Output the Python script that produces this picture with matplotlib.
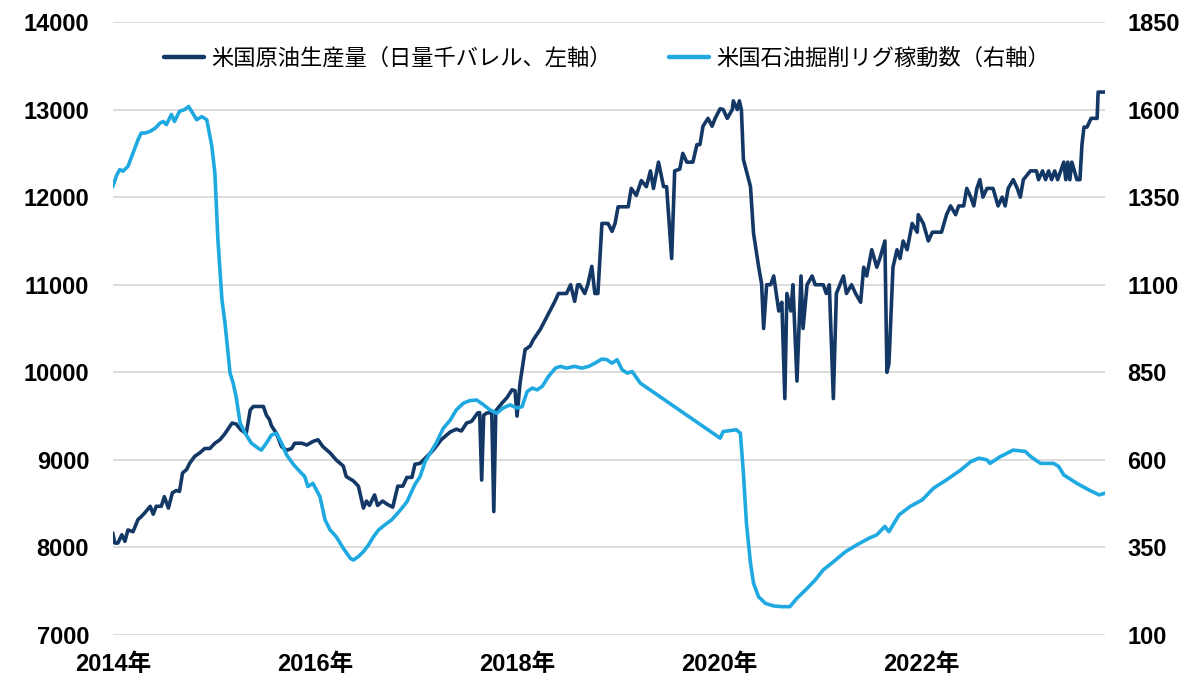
import numpy as np
import matplotlib
matplotlib.use("Agg")
import matplotlib.pyplot as plt

plt.rcParams['font.family'] = ['Liberation Sans', 'Noto Sans CJK JP', 'DejaVu Sans']

# US crude oil production (thousand b/d, weekly estimates), x = decimal year
prod_t = [2014.00, 2014.02, 2014.05, 2014.09, 2014.12, 2014.15, 2014.20, 2014.25, 2014.28, 2014.32,
          2014.37, 2014.40, 2014.43, 2014.48, 2014.51, 2014.55, 2014.59, 2014.63, 2014.66, 2014.69,
          2014.73, 2014.76, 2014.81, 2014.86, 2014.91, 2014.96, 2015.01, 2015.06, 2015.11, 2015.18,
          2015.22, 2015.27, 2015.32, 2015.36, 2015.39, 2015.49, 2015.52, 2015.55, 2015.57, 2015.62,
          2015.67, 2015.72, 2015.77, 2015.80, 2015.87, 2015.92, 2015.98, 2016.03, 2016.08, 2016.15,
          2016.21, 2016.28, 2016.31, 2016.38, 2016.43, 2016.48, 2016.51, 2016.54, 2016.59, 2016.62,
          2016.67, 2016.72, 2016.77, 2016.82, 2016.87, 2016.91, 2016.96, 2016.99, 2017.04, 2017.11,
          2017.17, 2017.25, 2017.34, 2017.40, 2017.45, 2017.50, 2017.55, 2017.61, 2017.63, 2017.65,
          2017.67, 2017.70, 2017.75, 2017.77, 2017.79, 2017.81, 2017.86, 2017.90, 2017.95, 2017.98,
          2018.00, 2018.03, 2018.08, 2018.13, 2018.16, 2018.23, 2018.28, 2018.33, 2018.37, 2018.41,
          2018.49, 2018.53, 2018.57, 2018.60, 2018.62, 2018.67, 2018.70, 2018.74, 2018.77, 2018.80,
          2018.84, 2018.90, 2018.94, 2018.97, 2019.00, 2019.10, 2019.13, 2019.18, 2019.23, 2019.28,
          2019.32, 2019.35, 2019.40, 2019.45, 2019.48, 2019.53, 2019.56, 2019.61, 2019.64, 2019.68,
          2019.74, 2019.78, 2019.81, 2019.84, 2019.89, 2019.93, 2019.96, 2020.01, 2020.04, 2020.08,
          2020.13, 2020.14, 2020.18, 2020.20, 2020.22, 2020.24, 2020.31, 2020.34, 2020.39, 2020.42,
          2020.44, 2020.47, 2020.51, 2020.54, 2020.59, 2020.62, 2020.65, 2020.67, 2020.71, 2020.73,
          2020.77, 2020.81, 2020.83, 2020.87, 2020.92, 2020.95, 2021.03, 2021.06, 2021.09, 2021.13,
          2021.16, 2021.23, 2021.26, 2021.31, 2021.35, 2021.40, 2021.43, 2021.46, 2021.51, 2021.56,
          2021.59, 2021.64, 2021.66, 2021.68, 2021.72, 2021.76, 2021.79, 2021.82, 2021.86, 2021.91,
          2021.96, 2021.97, 2022.02, 2022.07, 2022.11, 2022.20, 2022.25, 2022.29, 2022.34, 2022.37,
          2022.42, 2022.45, 2022.49, 2022.52, 2022.55, 2022.58, 2022.61, 2022.65, 2022.71, 2022.76,
          2022.80, 2022.83, 2022.86, 2022.91, 2022.95, 2022.98, 2023.01, 2023.08, 2023.14, 2023.16,
          2023.20, 2023.23, 2023.26, 2023.29, 2023.32, 2023.35, 2023.38, 2023.41, 2023.43, 2023.45,
          2023.47, 2023.49, 2023.54, 2023.57, 2023.59, 2023.61, 2023.64, 2023.68, 2023.74, 2023.75,
          2023.82]
prod_v = [8160, 8050, 8050, 8145, 8070, 8200, 8180, 8320, 8350, 8400,
          8470, 8380, 8470, 8470, 8580, 8450, 8625, 8650, 8640, 8850,
          8890, 8960, 9040, 9080, 9130, 9130, 9190, 9230, 9300, 9420,
          9410, 9340, 9300, 9570, 9610, 9610, 9510, 9460, 9390, 9300,
          9150, 9110, 9130, 9190, 9190, 9170, 9210, 9230, 9150, 9080,
          9000, 8930, 8810, 8760, 8700, 8450, 8530, 8480, 8600, 8480,
          8530, 8490, 8460, 8700, 8700, 8800, 8800, 8950, 8960, 9040,
          9110, 9230, 9320, 9350, 9330, 9420, 9440, 9535, 9540, 8770,
          9510, 9535, 9540, 8410, 9560, 9590, 9660, 9710, 9800, 9790,
          9500, 9880, 10260, 10300, 10370, 10490, 10600, 10710, 10800, 10900,
          10900, 11000, 10810, 11000, 11000, 10900, 11000, 11210, 10900, 10900,
          11700, 11700, 11610, 11700, 11890, 11890, 12100, 12020, 12190, 12120,
          12300, 12100, 12400, 12120, 12120, 11300, 12300, 12320, 12500, 12400,
          12400, 12600, 12600, 12810, 12900, 12810, 12900, 13010, 13000, 12900,
          13000, 13100, 13000, 13100, 13000, 12430, 12120, 11590, 11210, 11010,
          10500, 11000, 11000, 11100, 10700, 10800, 9700, 10900, 10700, 11000,
          9900, 11100, 10500, 11000, 11100, 11000, 11000, 10900, 11000, 9700,
          10900, 11100, 10900, 11000, 10900, 10800, 11200, 11100, 11400, 11200,
          11300, 11500, 10000, 10100, 11200, 11400, 11300, 11500, 11400, 11700,
          11600, 11800, 11700, 11500, 11600, 11600, 11800, 11900, 11800, 11900,
          11900, 12100, 12000, 11900, 12100, 12200, 12000, 12100, 12100, 11900,
          12000, 11900, 12100, 12200, 12100, 12000, 12200, 12300, 12300, 12200,
          12300, 12200, 12300, 12200, 12300, 12200, 12300, 12400, 12200, 12400,
          12200, 12400, 12200, 12200, 12600, 12800, 12800, 12900, 12900, 13200,
          13200]

# US oil rig count (Baker Hughes), gap in 2019 is bridged by a straight line
rig_t = [2014.00, 2014.04, 2014.07, 2014.10, 2014.15, 2014.20, 2014.25, 2014.28, 2014.32, 2014.37,
         2014.42, 2014.47, 2014.50, 2014.53, 2014.58, 2014.61, 2014.66, 2014.71, 2014.75, 2014.78,
         2014.83, 2014.88, 2014.93, 2014.98, 2015.01, 2015.04, 2015.08, 2015.11, 2015.16, 2015.19,
         2015.22, 2015.26, 2015.31, 2015.37, 2015.44, 2015.47, 2015.52, 2015.57, 2015.62, 2015.67,
         2015.72, 2015.79, 2015.85, 2015.90, 2015.93, 2015.98, 2016.05, 2016.10, 2016.15, 2016.21,
         2016.28, 2016.35, 2016.38, 2016.43, 2016.48, 2016.53, 2016.58, 2016.63, 2016.69, 2016.76,
         2016.84, 2016.91, 2016.99, 2017.04, 2017.09, 2017.14, 2017.20, 2017.27, 2017.34, 2017.40,
         2017.47, 2017.53, 2017.60, 2017.67, 2017.73, 2017.80, 2017.86, 2017.93, 2018.00, 2018.05,
         2018.10, 2018.15, 2018.20, 2018.25, 2018.31, 2018.38, 2018.43, 2018.49, 2018.57, 2018.64,
         2018.71, 2018.77, 2018.84, 2018.89, 2018.94, 2018.99, 2019.04, 2019.09, 2019.14, 2019.22,
         2020.01, 2020.04, 2020.17, 2020.21, 2020.24, 2020.27, 2020.31, 2020.34, 2020.39, 2020.46,
         2020.54, 2020.62, 2020.70, 2020.77, 2020.87, 2020.95, 2021.03, 2021.13, 2021.25, 2021.36,
         2021.48, 2021.56, 2021.64, 2021.68, 2021.78, 2021.89, 2022.01, 2022.12, 2022.25, 2022.39,
         2022.49, 2022.57, 2022.65, 2022.68, 2022.78, 2022.91, 2023.03, 2023.08, 2023.18, 2023.31,
         2023.36, 2023.41, 2023.54, 2023.66, 2023.76, 2023.82]
rig_v = [1381, 1414, 1429, 1424, 1438, 1476, 1514, 1533, 1533, 1538,
         1547, 1562, 1566, 1557, 1586, 1566, 1595, 1600, 1609, 1595,
         1571, 1580, 1571, 1495, 1419, 1229, 1057, 991, 848, 820,
         781, 705, 676, 648, 633, 628, 648, 671, 676, 648,
         614, 586, 567, 552, 524, 533, 495, 429, 400, 381,
         348, 319, 314, 324, 338, 357, 381, 400, 414, 429,
         455, 480, 530, 552, 595, 619, 648, 690, 714, 743,
         762, 769, 771, 757, 743, 733, 748, 757, 748, 752,
         795, 805, 800, 810, 838, 862, 867, 862, 867, 862,
         867, 876, 888, 886, 876, 886, 857, 848, 852, 819,
         662, 681, 686, 676, 562, 419, 305, 248, 209, 190,
         183, 181, 181, 205, 233, 257, 286, 309, 338, 357,
         376, 386, 410, 395, 443, 467, 486, 519, 543, 571,
         595, 605, 600, 590, 609, 628, 624, 610, 590, 590,
         581, 557, 533, 514, 500, 505]

year_ticks = [2014, 2016, 2018, 2020, 2022]
left_ticks = [7000, 8000, 9000, 10000, 11000, 12000, 13000, 14000]
right_ticks = [100, 350, 600, 850, 1100, 1350, 1600, 1850]

dark = '#143866'
light = '#1fa9e1'

fig = plt.figure(figsize=(12, 6.84), dpi=100)
ax = fig.add_axes([0.094, 0.0716, 0.827, 0.8962])
ax2 = ax.twinx()

l1, = ax.plot(prod_t, prod_v, color=dark, lw=2.6, solid_joinstyle='round',
              label='米国原油生産量（日量千バレル、左軸）')
l2, = ax2.plot(rig_t, rig_v, color=light, lw=2.6, solid_joinstyle='round',
               label='米国石油掘削リグ稼動数（右軸）')

ax.set_xlim(2014, 2023.82)
ax.set_ylim(7000, 14000)
ax2.set_ylim(100, 1850)
ax.set_yticks(left_ticks)
ax2.set_yticks(right_ticks)
ax.set_xticks(year_ticks)
ax.set_xticklabels([f'{y}年' for y in year_ticks])

ax.grid(axis='y', color='#d9d9d9', lw=1.3)
ax.set_axisbelow(True)
for a in (ax, ax2):
    for s in a.spines.values():
        s.set_visible(False)
    a.tick_params(length=0)

ax.tick_params(axis='y', pad=17, labelsize=17)
ax2.tick_params(axis='y', pad=16, labelsize=17)
ax.tick_params(axis='x', pad=13, labelsize=17)
for lab in ax.get_yticklabels() + ax2.get_yticklabels() + ax.get_xticklabels():
    lab.set_fontweight('bold')

leg = ax2.legend(handles=[l1, l2], loc='center', bbox_to_anchor=(0.498, 0.941),
                 ncol=2, frameon=False, handlelength=1.8, handletextpad=0.3,
                 columnspacing=2.6, prop={'family': ['Noto Sans CJK JP'], 'size': 16})
for h in leg.get_lines():
    h.set_linewidth(3.2)
    h.set_solid_capstyle('round')

fig.savefig('out.png', dpi=100)
